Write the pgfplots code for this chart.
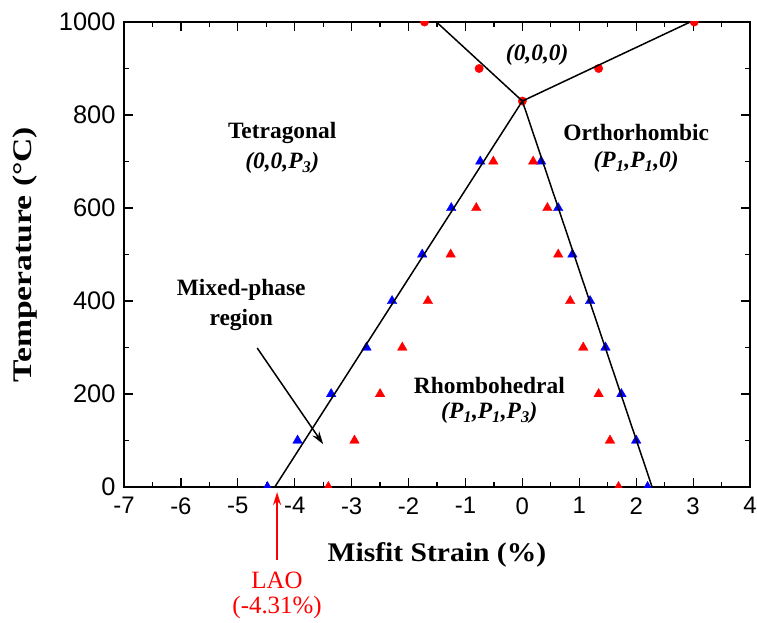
\documentclass[border=0pt]{standalone}
\usepackage{fontspec}
\setmainfont{Liberation Serif}
\setsansfont{Liberation Sans}
\usepackage{graphicx}
\usepackage{pgfplots}
\pgfplotsset{compat=1.18}
\usetikzlibrary{arrows.meta}
\begin{document}
\begin{tikzpicture}
\begin{axis}[
  at={(0,0)}, anchor=south west,
  scale only axis, width=626bp, height=465bp,
  xmin=-7, xmax=4, ymin=0, ymax=1000,
  xtick={-7,-6,...,4}, xticklabels={-7,-6,-5,-4,-3,-2,-1,0,1,2,3,4},
  ytick={0,200,...,1000}, yticklabels={0,200,400,600,800,1000},
  minor xtick={-6.5,-5.5,...,3.5},
  minor ytick={100,300,...,900},
  tick align=inside,
  major tick length=9bp, minor tick length=5bp,
  every tick/.style={black, line width=1.2bp},
  axis line style={line width=1.6bp},
  xticklabel style={font=\fontsize{24}{24}\sffamily, yshift=-7bp},
  yticklabel style={font=\fontsize{25.5}{25.5}\sffamily, xshift=-5bp},
  every axis x label/.style={at={(axis description cs:0.5,0)},yshift=-68bp,anchor=center},
  every axis y label/.style={at={(axis description cs:0,0.5)},xshift=-99bp,rotate=90,anchor=center},
  xlabel={\scalebox{1.1}[1]{\fontsize{27}{27}\selectfont\bfseries Misfit Strain (\%)}},
  ylabel={\scalebox{1.25}[1]{\fontsize{27}{27}\selectfont\bfseries Temperature (°C)}},
  clip mode=individual, clip marker paths=true,
]
% blue triangles (left boundary)
\addplot[only marks, mark=triangle*, mark size=5.5bp, color=blue] coordinates {
(-4.48,0) (-3.95,100) (-3.36,200) (-2.74,300) (-2.29,400) (-1.76,500) (-1.25,600) (-0.74,700)};
% blue triangles (right boundary)
\addplot[only marks, mark=triangle*, mark size=5.5bp, color=blue] coordinates {
(0.33,700) (0.63,600) (0.88,500) (1.19,400) (1.46,300) (1.74,200) (2.00,100) (2.20,0)};
% red triangles (left)
\addplot[only marks, mark=triangle*, mark size=5.5bp, color=red] coordinates {
(-3.41,0) (-2.95,100) (-2.50,200) (-2.11,300) (-1.66,400) (-1.26,500) (-0.81,600) (-0.51,700)};
% red triangles (right)
\addplot[only marks, mark=triangle*, mark size=5.5bp, color=red] coordinates {
(0.19,700) (0.44,600) (0.63,500) (0.84,400) (1.07,300) (1.34,200) (1.54,100) (1.69,0)};
% red circles
\addplot[only marks, mark=*, mark size=4.2bp, color=red] coordinates {
(0,830) (-0.76,900) (1.34,900) (-1.72,1000) (3.02,1000)};
% phase boundaries
\addplot[black, line width=1.5bp, mark=none] coordinates {(-4.35,0) (0,830) (2.28,0)};
\addplot[black, line width=1.5bp, mark=none] coordinates {(-1.51,1000) (0,830) (2.95,1000)};

\def\lbl{\fontsize{23.5}{24}\selectfont\bfseries}
\node[font=\lbl] at (axis cs:-4.22,761) {Tetragonal};
\node[font=\lbl] at (axis cs:-4.22,697) {\itshape (0,0,P\textsubscript{3})};
\node[font=\lbl] at (axis cs:0.26,929) {\itshape (0,0,0)};
\node[font=\lbl] at (axis cs:2.0,763) {Orthorhombic};
\node[font=\lbl] at (axis cs:2.0,699) {\itshape (P\textsubscript{1},P\textsubscript{1},0)};
\node[font=\lbl] at (axis cs:-0.58,219) {Rhombohedral};
\node[font=\lbl] at (axis cs:-0.58,159) {\itshape (P\textsubscript{1},P\textsubscript{1},P\textsubscript{3})};
\node[font=\lbl] at (axis cs:-4.94,424) {Mixed-phase};
\node[font=\lbl] at (axis cs:-4.94,359) {region};
\draw[line width=1.5bp, -{Stealth[length=13bp,width=8bp]}] (axis cs:-4.66,299) -- (axis cs:-3.50,92);
\draw[red, line width=1.6bp, -{Stealth[length=13bp,width=8bp]}] (axis cs:-4.31,-157) -- (axis cs:-4.31,-11);
\node[red, font=\fontsize{25}{25}\selectfont] at (axis cs:-4.31,-200) {LAO};
\node[red, font=\fontsize{25}{25}\selectfont] at (axis cs:-4.31,-260) {(-4.31\%)};
\end{axis}
\pgfresetboundingbox
\path[use as bounding box] (-124bp,-136bp) rectangle (633bp,487bp);
\end{tikzpicture}
\end{document}
